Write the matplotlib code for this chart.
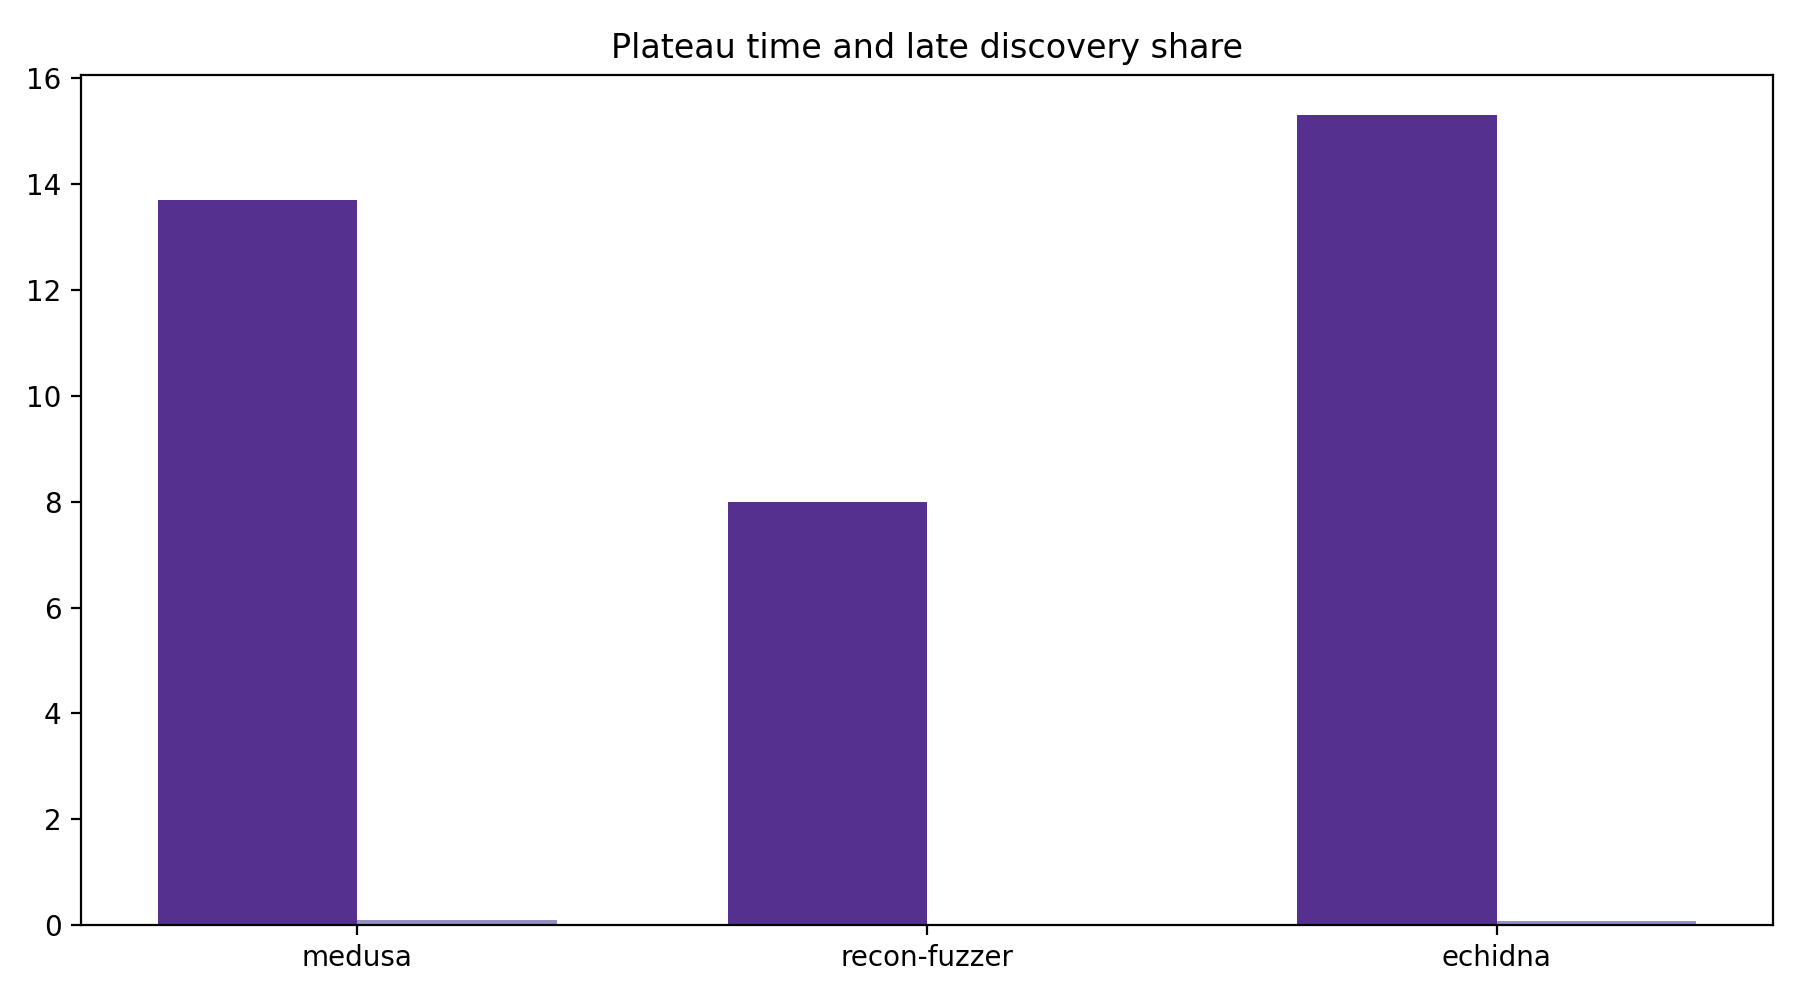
import matplotlib
matplotlib.use("Agg")
import matplotlib.pyplot as plt
import numpy as np

tools = ["medusa", "recon-fuzzer", "echidna"]
plateau_time = [13.7, 8.0, 15.3]
late_share = [0.10, 0.0, 0.08]

fig, ax = plt.subplots(figsize=(9, 5), dpi=200)
x = np.arange(len(tools))
w = 0.35
ax.bar(x - w/2, plateau_time, w, color="#56308f")
ax.bar(x + w/2, late_share, w, color="#9491c4")
ax.set_xticks(x)
ax.set_xticklabels(tools)
ax.set_title("Plateau time and late discovery share")
fig.subplots_adjust(left=0.045, right=0.985, top=0.925, bottom=0.075)
fig.savefig("out.png")
